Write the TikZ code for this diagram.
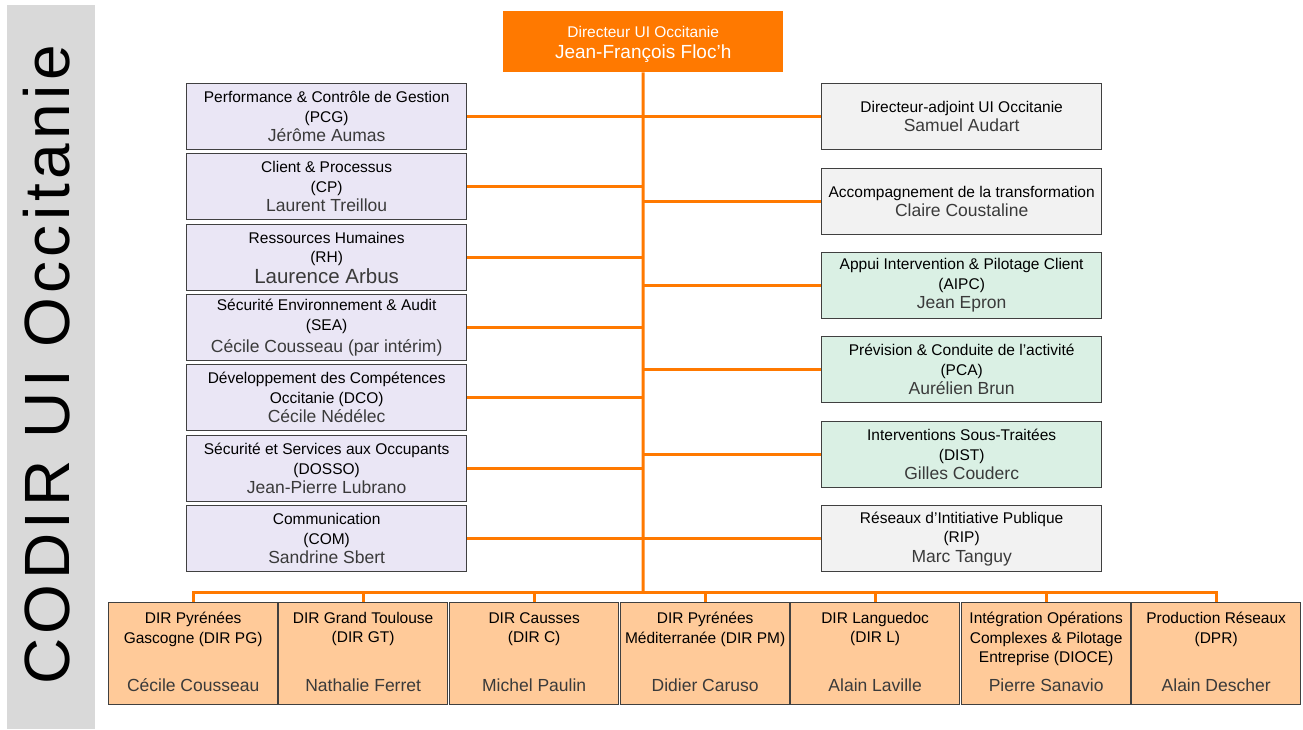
\documentclass[tikz,border=0pt]{standalone}
\usepackage{fontspec}
\setmainfont{Liberation Sans}
\newfontfamily\bigfont[LetterSpace=7]{Liberation Sans}
\definecolor{orng}{HTML}{FF7900}
\definecolor{lavender}{HTML}{EAE6F5}
\definecolor{lightgrey}{HTML}{F2F2F2}
\definecolor{mint}{HTML}{DAF0E4}
\definecolor{peach}{HTML}{FFCA99}
\definecolor{greybar}{HTML}{D9D9D9}
\definecolor{boxline}{HTML}{404040}
\definecolor{namegrey}{HTML}{3A3A3A}
\newcommand\tf{\fontsize{15.5}{19.5}\selectfont}
\newcommand\nf{\fontsize{17.5}{19.5}\selectfont\color{namegrey}}
\tikzset{
  unitbox/.style={draw=boxline, line width=1.3pt, minimum width=280, minimum height=66,
    inner sep=0, align=center, anchor=north west, font=\tf, text=black},
  leftbox/.style={unitbox, fill=lavender},
  greybox/.style={unitbox, fill=lightgrey},
  greenbox/.style={unitbox, fill=mint},
  dirbox/.style={draw=boxline, line width=1.3pt, fill=peach, minimum width=169,
    minimum height=102, inner sep=0, anchor=north west},
  dirtitle/.style={anchor=north, inner sep=0, align=center, font=\tf, text=black},
  dirname/.style={anchor=base, inner sep=0, font=\nf},
  conn/.style={draw=orng, line width=3pt}
}
\begin{document}
\begin{tikzpicture}[x=1pt,y=-1pt]
\useasboundingbox (0,0) rectangle (1303,729);
\fill[white] (0,0) rectangle (1303,729);
% side bar
\fill[greybar] (7,5) rectangle (95,729);
\node[rotate=90, inner sep=0, font=\bigfont\fontsize{64}{70}\selectfont] (codir) at (47,365) {CODIR UI Occitanie};

% top
\node[fill=orng, minimum width=280, minimum height=61, inner sep=0, align=center, anchor=north west,
  text=white, font=\fontsize{15.5}{20}\selectfont] (top) at (503,11)
  {\rule{0pt}{17.5pt}Directeur UI Occitanie\\[1pt]{\fontsize{19}{20}\selectfont Jean-François Floc’h}};

% left column
\node[leftbox] (l1) at (186,83) {Performance \& Contrôle de Gestion\\(PCG)\\{\nf Jérôme Aumas}};
\node[leftbox] (l2) at (186,153) {Client \& Processus\\(CP)\\{\nf Laurent Treillou}};
\node[leftbox] (l3) at (186,224) {Ressources Humaines\\(RH)\\[1pt]{\fontsize{20.5}{19.5}\selectfont\color{namegrey}Laurence Arbus}};
\node[leftbox] (l4) at (186,294) {Sécurité Environnement \& Audit\\(SEA)\\[3pt]{\nf Cécile Cousseau (par intérim)}};
\node[leftbox] (l5) at (186,364) {Développement des Compétences\\Occitanie (DCO)\\{\nf Cécile Nédélec}};
\node[leftbox] (l6) at (186,435) {Sécurité et Services aux Occupants\\(DOSSO)\\{\nf Jean-Pierre Lubrano}};
\node[leftbox] (l7) at (186,505) {Communication\\(COM)\\{\nf Sandrine Sbert}};

% right column
\node[greybox] (r1) at (821,83) {Directeur-adjoint UI Occitanie\\{\nf Samuel Audart}};
\node[greybox] (r2) at (821,168) {Accompagnement de la transformation\\{\nf Claire Coustaline}};
\node[greenbox] (r3) at (821,252) {Appui Intervention \& Pilotage Client\\(AIPC)\\{\nf Jean Epron}};
\node[greenbox] (r4) at (821,336) {Prévision \& Conduite de l’activité\\(PCA)\\{\nf Aurélien Brun}};
\node[greenbox] (r5) at (821,421) {Interventions Sous-Traitées\\(DIST)\\{\nf Gilles Couderc}};
\node[greybox] (r6) at (821,505) {Réseaux d’Intitiative Publique\\(RIP)\\{\nf Marc Tanguy}};

% bottom row
\node[dirbox] (b1) at (108,602) {};
\node[dirbox] (b2) at (278,602) {};
\node[dirbox] (b3) at (449,602) {};
\node[dirbox] (b4) at (620,602) {};
\node[dirbox] (b5) at (790,602) {};
\node[dirbox] (b6) at (961,602) {};
\node[dirbox] (b7) at (1131,602) {};

\node[dirtitle] (t1) at ([yshift=-10pt]b1.north) {DIR Pyrénées\\Gascogne (DIR PG)};
\node[dirtitle] (t2) at ([yshift=-10pt]b2.north) {DIR Grand Toulouse\\(DIR GT)};
\node[dirtitle] (t3) at ([yshift=-10pt]b3.north) {DIR Causses\\(DIR C)};
\node[dirtitle] (t4) at ([yshift=-10pt]b4.north) {DIR Pyrénées\\Méditerranée (DIR PM)};
\node[dirtitle] (t5) at ([yshift=-10pt]b5.north) {DIR Languedoc\\(DIR L)};
\node[dirtitle] (t6) at ([yshift=-10pt]b6.north) {Intégration Opérations\\Complexes \& Pilotage\\Entreprise (DIOCE)};
\node[dirtitle] (t7) at ([yshift=-10pt]b7.north) {Production Réseaux\\(DPR)};

\node[dirname] (n1) at ([yshift=14pt]b1.south) {Cécile Cousseau};
\node[dirname] (n2) at ([yshift=14pt]b2.south) {Nathalie Ferret};
\node[dirname] (n3) at ([yshift=14pt]b3.south) {Michel Paulin};
\node[dirname] (n4) at ([yshift=14pt]b4.south) {Didier Caruso};
\node[dirname] (n5) at ([yshift=14pt]b5.south) {Alain Laville};
\node[dirname] (n6) at ([yshift=14pt]b6.south) {Pierre Sanavio};
\node[dirname] (n7) at ([yshift=14pt]b7.south) {Alain Descher};

% connectors
\coordinate (bus) at (643,592);
\draw[conn] (top.south) -- (bus);
\foreach \n in {l1,l2,l3,l4,l5,l6,l7} {\draw[conn] (\n.east) -- (\n.east -| top.south);}
\foreach \n in {r1,r2,r3,r4,r5,r6} {\draw[conn] (\n.west -| top.south) -- (\n.west);}
\draw[conn, line join=miter] (b1.north) -- (b1.north |- bus) -- (b7.north |- bus) -- (b7.north);
\foreach \n in {b2,b3,b4,b5,b6} {\draw[conn] (\n.north |- bus) -- (\n.north);}
\end{tikzpicture}
\end{document}
